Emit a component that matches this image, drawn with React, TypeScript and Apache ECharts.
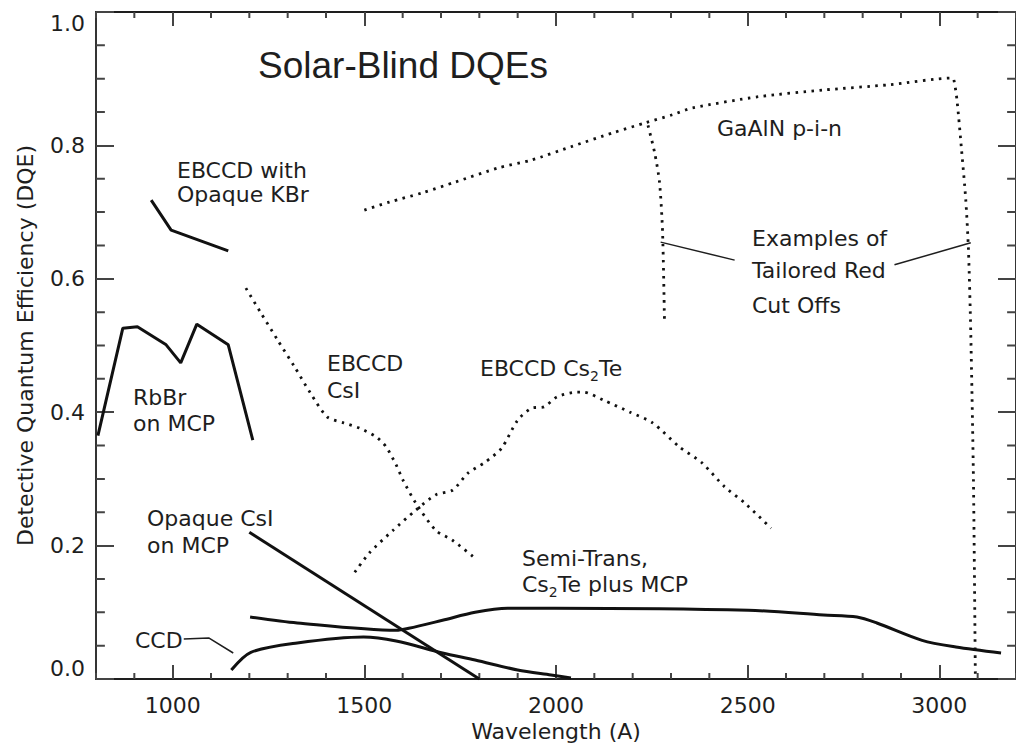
import React, { useEffect, useRef } from "react";
import * as echarts from "echarts";

// ---- tick values ----
const xMajorTicks = [1000, 1500, 2000, 2500, 3000];
const xMinorTicks = [
  800, 900, 1100, 1200, 1300, 1400, 1600, 1700, 1800, 1900, 2100, 2200,
  2300, 2400, 2600, 2700, 2800, 2900, 3100, 3200,
];
const yMinorTicks = [
  0.05, 0.1, 0.15, 0.25, 0.3, 0.35, 0.45, 0.5, 0.55, 0.65, 0.7, 0.75, 0.85, 0.9, 0.95,
];

// ---- series data [wavelength (A), DQE] ----
const ebccdKBr = [[944, 0.718], [996, 0.673], [1145, 0.642]];
const rbbrMCP = [
  [805, 0.365], [870, 0.526], [908, 0.528], [983, 0.501], [1021, 0.474],
  [1063, 0.532], [1145, 0.501], [1209, 0.358],
];
const opaqueCsIMCP = [[1200, 0.22], [1800, 0.0]];
const ccd = [
  [1153, 0.0135], [1204, 0.04], [1325, 0.054], [1498, 0.063], [1583, 0.057],
  [1704, 0.039], [1789, 0.0285], [1900, 0.0135], [1987, 0.006], [2039, 0.0015],
];
const semiTransCs2Te = [
  [1202, 0.093], [1325, 0.084], [1583, 0.073], [1616, 0.076], [1704, 0.088],
  [1789, 0.1], [1874, 0.106], [1995, 0.106], [2502, 0.103], [2698, 0.096],
  [2785, 0.093], [2837, 0.084], [2955, 0.058], [3043, 0.048], [3161, 0.039],
];
const ebccdCsI = [
  [1191, 0.586], [1230, 0.549], [1274, 0.508], [1318, 0.468], [1359, 0.429],
  [1403, 0.393], [1446, 0.384], [1488, 0.376], [1531, 0.363], [1557, 0.348],
  [1583, 0.321], [1601, 0.298], [1634, 0.264], [1686, 0.223], [1730, 0.208],
  [1789, 0.181],
];
const ebccdCs2Te = [
  [1475, 0.16], [1513, 0.189], [1575, 0.223], [1634, 0.253], [1686, 0.276],
  [1730, 0.283], [1771, 0.309], [1815, 0.325], [1858, 0.346], [1900, 0.388],
  [1936, 0.406], [1969, 0.408], [2003, 0.423], [2054, 0.43], [2072, 0.43],
  [2124, 0.418], [2193, 0.4], [2252, 0.384], [2322, 0.348], [2381, 0.324],
  [2440, 0.288], [2492, 0.264], [2561, 0.226],
];
const gaAlN = [
  [1500, 0.703], [1565, 0.715], [1652, 0.729], [1737, 0.745], [1848, 0.766],
  [1936, 0.778], [2039, 0.798], [2149, 0.819], [2234, 0.834], [2304, 0.846],
  [2355, 0.856], [2528, 0.873], [2698, 0.883], [2870, 0.891], [3033, 0.901],
  [3038, 0.898], [3046, 0.868], [3058, 0.793], [3069, 0.718], [3076, 0.643],
  [3082, 0.519], [3089, 0.298], [3094, 0.0],
];
const gaAlNCutOff = [
  [2240, 0.83], [2257, 0.79], [2270, 0.745], [2278, 0.67], [2283, 0.535],
];
// annotation leader lines (data coordinates)
const ccdLeader = [[1029, 0.06], [1094, 0.0615], [1158, 0.039]];
const cutOffLeaderLeft = [[2273, 0.655], [2466, 0.628]];
const cutOffLeaderRight = [[2883, 0.621], [3082, 0.654]];

const FONT = "DejaVu Sans";
const INK = "#1e1e1e";
const TICK = "#444";
const X_MIN = 800;
const X_MAX = 3200;
const GRID = { left: 96, top: 12, width: 932, height: 667 };

export default function App() {
  const ref = useRef<HTMLDivElement>(null);
  useEffect(() => {
    if (!ref.current) return;
    const chart = echarts.init(ref.current, null, { renderer: "svg" });
    const mkLine = () => ({ show: true, onZero: false, lineStyle: { color: INK, width: 1.8 } });
    const xPerPx = (X_MAX - X_MIN) / GRID.width;
    const yMinorData = yMinorTicks.flatMap((v) => [
      [X_MIN, v], [X_MIN + 9 * xPerPx, v], ["-", v],
      [X_MAX, v], [X_MAX - 9 * xPerPx, v], ["-", v],
    ]);
    const solid = (name: string, data: number[][], smooth = false) => ({
      type: "line", name, data, symbol: "none", silent: true, smooth: smooth ? 0.3 : false,
      lineStyle: { color: "#111", width: 3 },
    });
    const dotted = (name: string, data: number[][]) => ({
      type: "line", name, data, symbol: "none", silent: true, smooth: 0.25,
      lineStyle: { color: "#111", width: 2.8, type: [2.5, 5.5] },
    });
    const leader = (name: string, data: number[][]) => ({
      type: "line", name, data, symbol: "none", silent: true,
      lineStyle: { color: INK, width: 1.5 },
    });
    const xMinorSeries = {
      type: "custom", name: "x minor ticks",
      data: xMinorTicks.map((v) => [v, 0]),
      encode: { x: 0, y: 1 },
      renderItem: (_p: any, api: any) => {
        const v = api.value(0);
        const b = api.coord([v, 0]);
        const t = api.coord([v, 1]);
        return {
          type: "group",
          children: [
            { type: "line", shape: { x1: b[0], y1: b[1], x2: b[0], y2: b[1] - 6 }, style: { stroke: TICK, lineWidth: 2 } },
            { type: "line", shape: { x1: t[0], y1: t[1], x2: t[0], y2: t[1] + 6 }, style: { stroke: TICK, lineWidth: 2 } },
          ],
        };
      },
    };
    const txt = (text: string, x: number, y: number, size = 22, family = FONT) => ({
      type: "text", x, y, silent: true,
      style: {
        text, x: 0, y: 0, fontSize: size, fontFamily: family, fill: INK,
        align: "left", verticalAlign: "middle",
        rich: { s: { fontSize: 14, fontFamily: FONT, fill: INK, padding: [16, 0, 0, 0] } },
      },
    });
    chart.setOption({
      animation: false,
      backgroundColor: "#ffffff",
      grid: GRID,
      xAxis: [
        {
          type: "value", min: X_MIN, max: X_MAX, position: "bottom",
          axisLine: mkLine(), splitLine: { show: false },
          axisTick: { show: true, inside: true, length: 14, customValues: xMajorTicks, lineStyle: { color: TICK, width: 2 } },
          axisLabel: {
            customValues: xMajorTicks, margin: 15, fontSize: 22, fontFamily: FONT, color: INK,
            formatter: (v: number) => String(v),
          },
          name: "Wavelength (A)", nameLocation: "middle", nameGap: 40,
          nameTextStyle: { fontSize: 22, fontFamily: FONT, color: INK },
        },
        {
          type: "value", min: X_MIN, max: X_MAX, position: "top",
          axisLine: mkLine(), splitLine: { show: false },
          axisTick: { show: true, inside: true, length: 14, customValues: xMajorTicks, lineStyle: { color: TICK, width: 2 } },
          axisLabel: { show: false, customValues: xMajorTicks },
        },
      ],
      yAxis: [
        {
          type: "value", min: 0, max: 1, interval: 0.2, position: "left", axisLine: mkLine(),
          splitLine: { show: false },
          axisTick: { show: true, inside: true, length: 18, lineStyle: { color: TICK, width: 2 } },
          axisLabel: {
            margin: 11, fontSize: 22, fontFamily: FONT, color: INK,
            formatter: (v: number) => v.toFixed(1),
            verticalAlignMinLabel: "bottom", verticalAlignMaxLabel: "top",
          },
          name: "Detective Quantum Efficiency (DQE)", nameLocation: "middle", nameGap: 60,
          nameTextStyle: { fontSize: 22, fontFamily: FONT, color: INK },
        },
        {
          type: "value", min: 0, max: 1, interval: 0.2, position: "right", axisLine: mkLine(),
          splitLine: { show: false },
          axisTick: { show: true, inside: true, length: 18, lineStyle: { color: TICK, width: 2 } },
          axisLabel: { show: false },
        },
      ],
      series: [
        xMinorSeries,
        {
          type: "line", name: "y minor ticks", data: yMinorData, symbol: "none",
          connectNulls: false, lineStyle: { color: TICK, width: 2 },
        },
        solid("EBCCD with Opaque KBr", ebccdKBr),
        solid("RbBr on MCP", rbbrMCP),
        solid("Opaque CsI on MCP", opaqueCsIMCP),
        solid("CCD", ccd, true),
        solid("Semi-Trans. Cs2Te plus MCP", semiTransCs2Te, true),
        dotted("EBCCD CsI", ebccdCsI),
        dotted("EBCCD Cs2Te", ebccdCs2Te),
        dotted("GaAlN p-i-n", gaAlN),
        dotted("GaAlN cut off", gaAlNCutOff),
        leader("CCD leader", ccdLeader),
        leader("Cut off leader L", cutOffLeaderLeft),
        leader("Cut off leader R", cutOffLeaderRight),
      ],
      graphic: [
        txt("Solar-Blind DQEs", 258, 65, 37, "Liberation Sans"),
        txt("EBCCD with", 177, 170),
        txt("Opaque KBr", 177, 194),
        txt("RbBr", 133, 397),
        txt("on MCP", 133, 423),
        txt("EBCCD", 327, 363),
        txt("CsI", 327, 390),
        txt("EBCCD Cs{s|2}Te", 480, 368),
        txt("Opaque CsI", 147, 518),
        txt("on MCP", 147, 545),
        txt("CCD", 135, 640),
        txt("Semi-Trans,", 522, 558),
        txt("Cs{s|2}Te plus MCP", 522, 584),
        txt("GaAlN p-i-n", 717, 128),
        txt("Examples of", 752, 238),
        txt("Tailored Red", 752, 270),
        txt("Cut Offs", 752, 305),
      ],
    });
    return () => chart.dispose();
  }, []);
  return (
    <div
      ref={ref}
      style={{ position: "fixed", left: 0, top: 0, width: 1016, height: 750, background: "#fff" }}
    />
  );
}
